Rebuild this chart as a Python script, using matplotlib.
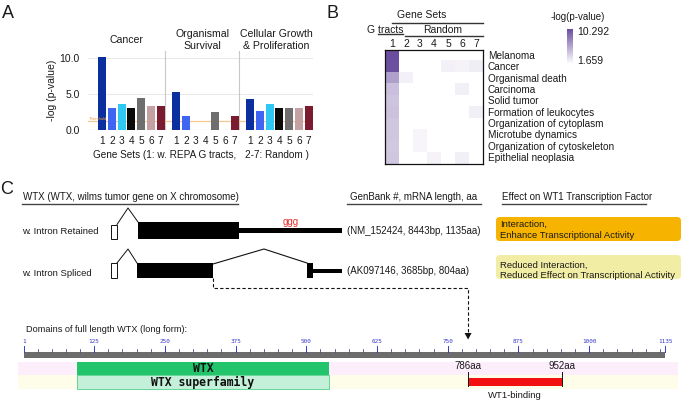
import matplotlib
matplotlib.use('Agg')
import matplotlib.pyplot as plt
import numpy as np
from matplotlib.patches import Rectangle, FancyBboxPatch, Polygon
from matplotlib.colors import LinearSegmentedColormap, Normalize
from matplotlib.cm import ScalarMappable
from matplotlib.transforms import blended_transform_factory as blend

plt.rcParams['font.family'] = ['Liberation Sans', 'DejaVu Sans']

# ------------------------------------------------------------------ DATA
# Panel A
group_names = ['Cancer', 'Organismal\nSurvival', 'Cellular Growth\n& Proliferation']
set_labels = ['1', '2', '3', '4', '5', '6', '7']
cancer = [10.2, 3.1, 3.6, 3.0, 4.5, 3.3, 3.3]
survival = [5.3, 2.0, 0.0, 0.0, 2.5, 0.0, 2.0]
growth = [4.3, 2.7, 3.6, 3.0, 3.0, 3.1, 3.3]
set_colors = ['#0b2f9f', '#3f66f2', '#2fc8f4', '#0a0a0a', '#6e6e6e', '#c4a2a4', '#7b1b30']
threshold = 1.3
a_yticks = [0.0, 5.0, 10.0]

# Panel B
b_rows = ['Melanoma', 'Cancer', 'Organismal death', 'Carcinoma', 'Solid tumor',
          'Formation of leukocytes', 'Organization of cytoplasm', 'Microtube dynamics',
          'Organization of cytoskeleton', 'Epithelial neoplasia']
b_cols = ['1', '2', '3', '4', '5', '6', '7']
b_vals = [
    [10.292, 0, 0, 0, 0, 0, 0],
    [10.1, 0, 0, 0, 2.3, 2.2, 2.5],
    [6.3, 2.3, 0, 0, 0, 0, 0],
    [4.7, 0, 0, 0, 0, 2.4, 0],
    [4.5, 0, 0, 0, 0, 0, 0],
    [4.6, 0, 0, 0, 0, 0, 2.4],
    [4.4, 0, 0, 0, 0, 0, 0],
    [4.4, 0, 2.1, 0, 0, 0, 0],
    [4.3, 0, 2.1, 0, 0, 0, 0],
    [4.4, 0, 0, 2.2, 0, 2.4, 0],
]
b_min, b_max = 1.659, 10.292

# Panel C
aa_length = 1135
ruler_labels = [1, 125, 250, 375, 500, 625, 750, 875, 1000, 1135]
ruler_minor_step = 25
wtx_domain = (95, 540)
wt1_binding = (786, 952)

# ------------------------------------------------------------------ FIGURE
W, H = 685, 403
fig = plt.figure(figsize=(6.85, 4.03), dpi=100)


def axes_px(x0, y0, x1, y1, **kw):
    return fig.add_axes([x0 / W, 1 - y1 / H, (x1 - x0) / W, (y1 - y0) / H], **kw)


ov = axes_px(0, 0, W, H)
ov.set_xlim(0, W)
ov.set_ylim(H, 0)
ov.axis('off')

TXT = '#1a1a1a'


def T(x, y, s, size=7, ha='left', va='center', color=TXT, **kw):
    ov.text(x, y, s, fontsize=size, ha=ha, va=va, color=color, **kw)


# panel letters
T(2, 13, 'A', size=13)
T(327, 13, 'B', size=13)
T(0, 190, 'C', size=13)

# ------------------------------------------------------------------ PANEL A
ax_x0, ax_x1, ax_top, ax_bot = 88, 313, 51.5, 130
axA = axes_px(ax_x0, ax_top, ax_x1, ax_bot)
axA.patch.set_alpha(0)
pitch_px = 9.8
xmax = (ax_x1 - ax_x0) / pitch_px
first_offset, group_step = 1.43, 7.55
axA.set_xlim(0, xmax)
axA.set_ylim(0, 10.9)
for s in axA.spines.values():
    s.set_visible(False)
for yv in [5.0, 10.0]:
    axA.axhline(yv, color='#e4e4e4', lw=0.6, zorder=1)
axA.axhline(0, color='#c0c0c0', lw=0.8, zorder=1)
all_x, all_lab = [], []
seps = []
for g, vals in enumerate([cancer, survival, growth]):
    xs = first_offset + g * group_step + np.arange(len(vals))
    axA.bar(xs, vals, width=0.82, color=set_colors, zorder=3)
    all_x += list(xs)
    all_lab += set_labels
    seps.append(xs[-1] + 0.43)
for sx in seps[:-1]:
    axA.axvline(sx, color='#c8c8c8', lw=0.8, zorder=2)
axA.axhline(threshold, color='#f8c890', lw=0.9, zorder=2)
axA.text(0.05, threshold + 0.15, 'Threshold', fontsize=3, color='#f0a040', zorder=4)
axA.set_xticks(all_x)
axA.set_xticklabels(all_lab, fontsize=7.3, color=TXT)
axA.set_yticks(a_yticks)
axA.set_yticklabels(['%.1f' % v for v in a_yticks], fontsize=7.5, color=TXT)
axA.tick_params(length=0, pad=4)
axA.tick_params(axis='y', pad=6)
axA.set_ylabel('-log (p-value)', fontsize=7.5, color=TXT)
axA.yaxis.set_label_coords((57 - ax_x0) / (ax_x1 - ax_x0), 0.5)
bounds = [0] + seps[:-1] + [xmax]
tr = blend(axA.transData, axA.transAxes)
ty = (ax_bot - 40) / (ax_bot - ax_top)
for g, name in enumerate(group_names):
    axA.text((bounds[g] + bounds[g + 1]) / 2, ty, name, transform=tr, ha='center',
             va='center', fontsize=7.6, color=TXT, linespacing=1.15)
T(93, 155, 'Gene Sets (1: w. REPA G tracts,', size=7.2)
T(245, 155, '2-7: Random )', size=7.2)

# ------------------------------------------------------------------ PANEL B
hx0, hx1, hy0, hy1 = 385, 483, 50, 164
axB = axes_px(hx0, hy0, hx1, hy1)
cmap = LinearSegmentedColormap.from_list('purp', ['#ffffff', '#6a4d9f'])
cmap.set_under('#ffffff')
norm = Normalize(vmin=b_min, vmax=b_max)
axB.imshow(np.array(b_vals), cmap=cmap, norm=norm, aspect='auto', interpolation='nearest')
axB.set_xticks([])
axB.set_yticks([])
for s in axB.spines.values():
    s.set_color('#111111')
    s.set_linewidth(0.9)
trR = blend(axB.transAxes, axB.transData)
for i, r in enumerate(b_rows):
    axB.text((488 - hx0) / (hx1 - hx0), i, r, transform=trR, fontsize=7.2, va='center',
             ha='left', color=TXT)
trC = blend(axB.transData, axB.transAxes)
for j, c in enumerate(b_cols):
    axB.text(j, (hy1 - 44) / (hy1 - hy0), c, transform=trC, fontsize=7.5, ha='center',
             va='center', color=TXT)
T(422, 15, 'Gene Sets', size=7.5, ha='center')
ov.plot([392, 483], [23, 23], color='#333333', lw=1.0)
T(385, 30, 'G tracts', size=7.5, ha='center')
ov.plot([378, 403], [34, 34], color='#333333', lw=1.0)
T(443, 30, 'Random', size=7.5, ha='center')
ov.plot([405, 483], [36, 36], color='#333333', lw=1.0)

cax = axes_px(567, 29, 573, 64)
cb = fig.colorbar(ScalarMappable(norm=norm, cmap=cmap), cax=cax)
cb.outline.set_visible(False)
cax.set_yticks([])
T(578, 17, '-log(p-value)', size=7, ha='center')
T(577, 32, '%.3f' % b_max, size=7.5)
T(577, 61, '%.3f' % b_min, size=7.5)

# ------------------------------------------------------------------ PANEL C
# headers
T(23, 197, 'WTX (WTX, wilms tumor gene on X chromosome)', size=7)
T(350, 197, 'GenBank #, mRNA length, aa', size=7)
T(502, 197, 'Effect on WT1 Transcription Factor', size=7)
for xa, xb in [(22, 238), (347, 481), (502, 646)]:
    ov.plot([xa, xb], [203.5, 203.5], color='#444444', lw=1.0)

# gene models (schematic px units)
# retained form
T(22, 232, 'w. Intron Retained', size=6.8)
ov.add_patch(Rectangle((111, 224.5), 6, 14.5, fc='white', ec='#111111', lw=0.7))
ov.plot([117, 128, 138], [224.5, 208, 222], color='#111111', lw=0.7)
ov.add_patch(Rectangle((138, 222), 101, 17, fc='black', ec='black', lw=0))
ov.add_patch(Rectangle((239, 228.3), 103, 4.4, fc='black', ec='black', lw=0))
T(291, 222, 'ggg', size=7, ha='center', color='#e8302c')
T(347, 231, '(NM_152424, 8443bp, 1135aa)', size=7)
ov.add_patch(FancyBboxPatch((496, 217), 185, 24, boxstyle='round,pad=0,rounding_size=4',
                            fc='#f6b400', ec='none'))
T(500, 224, 'Interaction,', size=6.8)
T(500, 235, 'Enhance Transcriptional Activity', size=6.8)

# spliced form
T(22, 273, 'w. Intron Spliced', size=6.8)
ov.add_patch(Rectangle((111, 263), 6, 15, fc='white', ec='#111111', lw=0.7))
ov.plot([117, 128, 137], [263, 249, 263], color='#111111', lw=0.7)
ov.add_patch(Rectangle((137, 263), 76, 15, fc='black', ec='black', lw=0))
ov.plot([213, 264, 307], [264, 249, 263], color='#111111', lw=0.8)
ov.add_patch(Rectangle((307, 263), 6, 15, fc='black', ec='black', lw=0))
ov.add_patch(Rectangle((313, 269), 29, 4.4, fc='black', ec='black', lw=0))
T(347, 271, '(AK097146, 3685bp, 804aa)', size=7)
ov.add_patch(FancyBboxPatch((496, 255), 185, 24, boxstyle='round,pad=0,rounding_size=4',
                            fc='#f1eda4', ec='none'))
T(500, 265, 'Reduced Interaction,', size=6.8)
T(500, 276, 'Reduced Effect on Transcriptional Activity', size=6.8)

# domain ruler
ruler_x0, ruler_x1 = 24, 665.5
aa_scale = (ruler_x1 - ruler_x0) / (aa_length - 1)


def aa_x(a):
    return ruler_x0 + (a - 1) * aa_scale


dom = axes_px(ruler_x0, 330, ruler_x1, H)
dom.patch.set_alpha(0)
dom.set_xlim(1, aa_length)
dom.set_ylim(H, 330)
dom.axis('off')
left_aa = 1 + (18 - ruler_x0) / aa_scale
right_aa = 1 + (678 - ruler_x0) / aa_scale
dom.add_patch(Rectangle((left_aa, 362), right_aa - left_aa, 13, fc='#fdeefc', ec='none',
                        clip_on=False))
dom.add_patch(Rectangle((left_aa, 375), right_aa - left_aa, 14, fc='#fefdea', ec='none',
                        clip_on=False))
dom.add_patch(Rectangle((1, 352), aa_length - 1, 5.5, fc='#6c6c6c', ec='none', clip_on=False))
for a in range(ruler_minor_step, aa_length, ruler_minor_step):
    dom.plot([a, a], [348.5, 352], color='#4a4a8a', lw=0.6, clip_on=False)
for a in ruler_labels:
    dom.plot([a, a], [345.5, 352], color='#3a3ac8', lw=0.7, clip_on=False)
    dom.text(a, 341.5, str(a), fontsize=4.3, color='#3a3ac8', ha='center', va='center',
             family='DejaVu Sans Mono', clip_on=False)
dom.add_patch(Rectangle((wtx_domain[0], 362), wtx_domain[1] - wtx_domain[0], 13,
                        fc='#22c46c', ec='none', clip_on=False))
dom.add_patch(Rectangle((wtx_domain[0], 375), wtx_domain[1] - wtx_domain[0], 14,
                        fc='#c4f0da', ec='#4fd08a', lw=0.6, clip_on=False))
mid = (wtx_domain[0] + wtx_domain[1]) / 2
dom.text(mid, 368.5, 'WTX', fontsize=8.3, ha='center', va='center', family='DejaVu Sans Mono',
         weight='bold', color='#111111', clip_on=False)
dom.text(mid, 382, 'WTX superfamily', fontsize=8.3, ha='center', va='center',
         family='DejaVu Sans Mono', weight='bold', color='#111111', clip_on=False)
dom.add_patch(Rectangle((wt1_binding[0], 378), wt1_binding[1] - wt1_binding[0], 8,
                        fc='#f21010', ec='none', clip_on=False))
for a in wt1_binding:
    dom.plot([a, a], [372, 386], color='#111111', lw=0.7, clip_on=False)
    dom.text(a, 366, '%daa' % a, fontsize=7, ha='center', va='center', color=TXT,
             clip_on=False)
dom.text(sum(wt1_binding) / 2, 395.5, 'WT1-binding', fontsize=6.8, ha='center',
         va='center', color=TXT, clip_on=False)

T(26, 330, 'Domains of full length WTX (long form):', size=6.6)

# dashed connector from spliced form down to the domain ruler
ax_arrow = aa_x(wt1_binding[0])
ov.plot([213, 213, ax_arrow, ax_arrow], [278, 287.5, 287.5, 333], color='#111111', lw=0.8,
        dashes=(3, 2))
ov.add_patch(Polygon([(ax_arrow - 3.5, 333), (ax_arrow + 3.5, 333), (ax_arrow, 339.5)],
                     closed=True, fc='#111111', ec='none'))

fig.savefig('out.png', dpi=100)
